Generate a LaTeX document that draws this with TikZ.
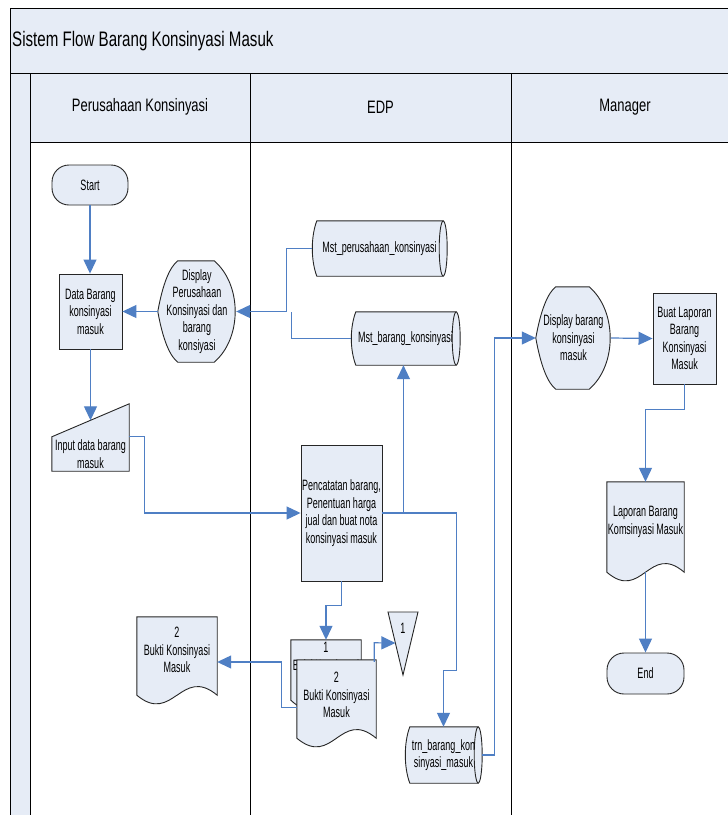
\documentclass[tikz,border=0pt]{standalone}
\usepackage{fontspec}
\setmainfont{Liberation Sans}
\newfontfamily\flowfont[FakeStretch=0.6]{Liberation Sans}
\newfontfamily\headfont[FakeStretch=0.72]{Liberation Sans}
\usetikzlibrary{arrows.meta,calc}
\definecolor{paleblue}{HTML}{E6ECF6}
\definecolor{flowblue}{HTML}{4F7FC4}
\definecolor{inkgray}{HTML}{262626}
\pgfdeclarelayer{frame}
\pgfdeclarelayer{shapes}
\pgfsetlayers{frame,shapes,main}

% display symbol: pointed left side, bulging right side
\newcommand\dispoutline[1]{%
  \path[outline] (#1.west)
    .. controls ($(#1.west)+(5,-28)$) and ($(#1.north west)+(12,6)$) .. ($(#1.north west)+(20,0)$)
    -- ($(#1.north east)+(-22,0)$)
    .. controls ($(#1.north east)+(6,24)$) and ($(#1.south east)+(6,-24)$) .. ($(#1.south east)+(-22,0)$)
    -- ($(#1.south west)+(20,0)$)
    .. controls ($(#1.south west)+(12,-6)$) and ($(#1.west)+(5,28)$) .. (#1.west) -- cycle;}
% document symbol: wavy lower edge; #2 = horizontal control offset
\newcommand\docoutline[2]{%
  \path[outline] (#1.north west) -- (#1.north east) -- (#1.south east)
    .. controls ($(#1.south east)+(-#2,-30)$) and ($(#1.south west)+(#2,30)$) .. (#1.south west) -- cycle;}
% stored data (horizontal drum); #2 = half height
\newcommand\cyloutline[2]{%
  \path[outline] ($(#1.south west)+(5,0)$)
    .. controls ($(#1.south west)+(-1,-16)$) and ($(#1.north west)+(-1,16)$) .. ($(#1.north west)+(5,0)$)
    -- ($(#1.north east)+(-4,0)$) -- ($(#1.south east)+(-4,0)$) -- cycle;
  \path[outline] ($(#1.east)+(-4,0)$) ellipse [x radius=4pt, y radius=#2pt];}

\begin{document}
\begin{tikzpicture}[x=1pt,y=-1pt,
  txt/.style={font=\flowfont\fontsize{15}{17.5}\selectfont, align=center, inner sep=0pt},
  shapebox/.style={txt, draw=inkgray, fill=paleblue, line width=0.9pt},
  outline/.style={draw=inkgray, fill=paleblue, line width=0.9pt},
  flow/.style={draw=flowblue, line width=1.2pt, -{Triangle[length=14pt,width=13pt]}},
  plainflow/.style={draw=flowblue, line width=1.2pt},
  laneline/.style={draw=black, line width=1pt},
  header/.style={font=\headfont\fontsize{18}{22}\selectfont, inner sep=0pt},
]
\useasboundingbox (0,0) rectangle (728,815);

% ---------- swimlane frame ----------
\begin{pgfonlayer}{frame}
\begin{scope}
  \clip (0,0) rectangle (728,815);
  \fill[white] (0,0) rectangle (728,815);
  \fill[paleblue] (10,8) rectangle (745,73);
  \fill[paleblue] (10,73) rectangle (30,830);
  \fill[paleblue] (30,73) rectangle (745,142);
  \draw[laneline] (10,830) -- (10,8) -- (745,8);
  \draw[laneline] (10,73) -- (745,73);
  \draw[laneline] (30,142) -- (745,142);
  \draw[laneline] (30,73) -- (30,830);
  \draw[laneline] (250,73) -- (250,830);
  \draw[laneline] (511,73) -- (511,830);
\end{scope}
\end{pgfonlayer}

\node[header, font=\headfont\fontsize{21}{25}\selectfont, anchor=west] (title) at (12,41) {Sistem Flow Barang Konsinyasi Masuk};
\node[header] (lane1) at (140,107) {Perusahaan Konsinyasi};
\node[header] (lane2) at (380.5,107) {EDP};
\node[header] (lane3) at (625,107) {Manager};

% ---------- Perusahaan Konsinyasi ----------
\node[shapebox, rounded corners=17pt, minimum width=76pt, minimum height=40pt] (start) at (90,185) {Start};
\node[shapebox, minimum width=63pt, minimum height=75pt] (data) at (90.5,311.5) {Data Barang\\konsinyasi\\masuk};
\node[txt, minimum width=78pt, minimum height=101pt] (disp1) at (197,311.5) {Display\\Perusahaan\\Konsinyasi dan\\barang\\konsiyasi};
\node[txt, minimum width=77pt, minimum height=34pt] (input) at (90.5,454) {Input data barang\\masuk};
\node[minimum width=80pt, minimum height=78pt, inner sep=0pt] (doc3) at (177,656) {};
\node[txt] (doc3t) at (177,650) {2\\Bukti Konsinyasi\\Masuk};

% ---------- EDP ----------
\node[txt, minimum width=135pt, minimum height=55pt] (mstp) at (379.5,248.5) {Mst\_perusahaan\_konsinyasi};
\node[txt, minimum width=109pt, minimum height=53pt] (mstb) at (405.5,338.5) {Mst\_barang\_konsinyasi};
\node[shapebox, minimum width=81pt, minimum height=136pt] (penc) at (341.5,513) {Pencatatan barang,\\Penentuan harga\\jual dan buat nota\\konsinyasi masuk};
\node[minimum width=70pt, minimum height=60pt, inner sep=0pt] (doc1) at (326,670) {};
\node[txt] (doc1t) at (326,665) {1\\Bukti Konsinyasi\\Masuk};
\node[minimum width=79pt, minimum height=78pt, inner sep=0pt] (doc2) at (336.5,699) {};
\node[txt] (off1) at (403,628) {1};
\node[txt, minimum width=77pt, minimum height=56pt] (trn) at (443.5,755) {trn\_barang\_kon\\sinyasi\_masuk};

% ---------- Manager ----------
\node[txt, minimum width=75pt, minimum height=102pt] (disp2) at (573.5,338) {Display barang\\konsinyasi\\masuk};
\node[shapebox, minimum width=63pt, minimum height=91pt] (buat) at (684.5,338.5) {Buat Laporan\\Barang\\Konsinyasi\\Masuk};
\node[minimum width=77pt, minimum height=90pt, inner sep=0pt] (lap) at (645.5,527) {};
\node[txt] (lapt) at (645.5,522) {Laporan Barang\\Komsinyasi Masuk};
\node[shapebox, rounded corners=17pt, minimum width=77pt, minimum height=41pt] (stop) at (645.5,673.5) {End};

% ---------- symbol outlines ----------
\begin{pgfonlayer}{shapes}
  \dispoutline{disp1}
  \dispoutline{disp2}
  \path[outline] (input.south west) -- (input.north west) -- ($(input.north east)+(0,-33)$) -- (input.south east) -- cycle;
  \cyloutline{mstp}{27.5}
  \cyloutline{mstb}{26.5}
  \cyloutline{trn}{28}
  \docoutline{doc3}{36}
  \docoutline{doc1}{32}
  \docoutline{lap}{35}
  \path[outline] ($(off1)+(-15,-16)$) -- ($(off1)+(15,-16)$) -- ($(off1)+(0,47)$) -- cycle;
\end{pgfonlayer}
% second copy of the receipt lies over the first one
\docoutline{doc2}{36}
\node[txt] (doc2t) at (336.5,695) {2\\Bukti Konsinyasi\\Masuk};

% ---------- connectors ----------
\draw[flow] (start.south) -- (start.south |- data.north);
\draw[flow] (disp1.west) -- (data.east);
\draw[flow] (mstp.west) -- ++(-25,0) |- (disp1.east);
\draw[plainflow] (mstb.west) -- ++(-59,0) -- ++(0,-27);
\draw[flow] (data.south) -- ($(input.north)+(0,-16.5)$);
\draw[flow] (input.north east) -- ++(15,0) |- (penc.west);
\draw[flow] (penc.east) -- ++(21,0) coordinate (j1) -- (j1 |- mstb.south);
\draw[flow] (j1) -| ($(trn.north)+(13,-56)$) -| (trn.north);
\draw[flow] (trn.east) -- ++(12,0) |- (disp2.west);
\draw[flow] (disp2.east) -- (buat.west);
\draw[flow] (buat.south) -- ++(0,25) -| (lap.north);
\draw[flow] (lap.south) -- (stop.north);
\draw[flow] (penc.south) -- ++(0,24) -| (doc1.north);
\draw[flow] ($(doc2.north east)+(-2,2)$) -- ++(0,-19) -- ($(off1)+(-7.6,15)$);
\draw[flow] ($(doc2.south west)+(0,-31)$) -- ++(-15,0) |- ($(doc3.east)+(0,6)$);
\end{tikzpicture}
\end{document}
